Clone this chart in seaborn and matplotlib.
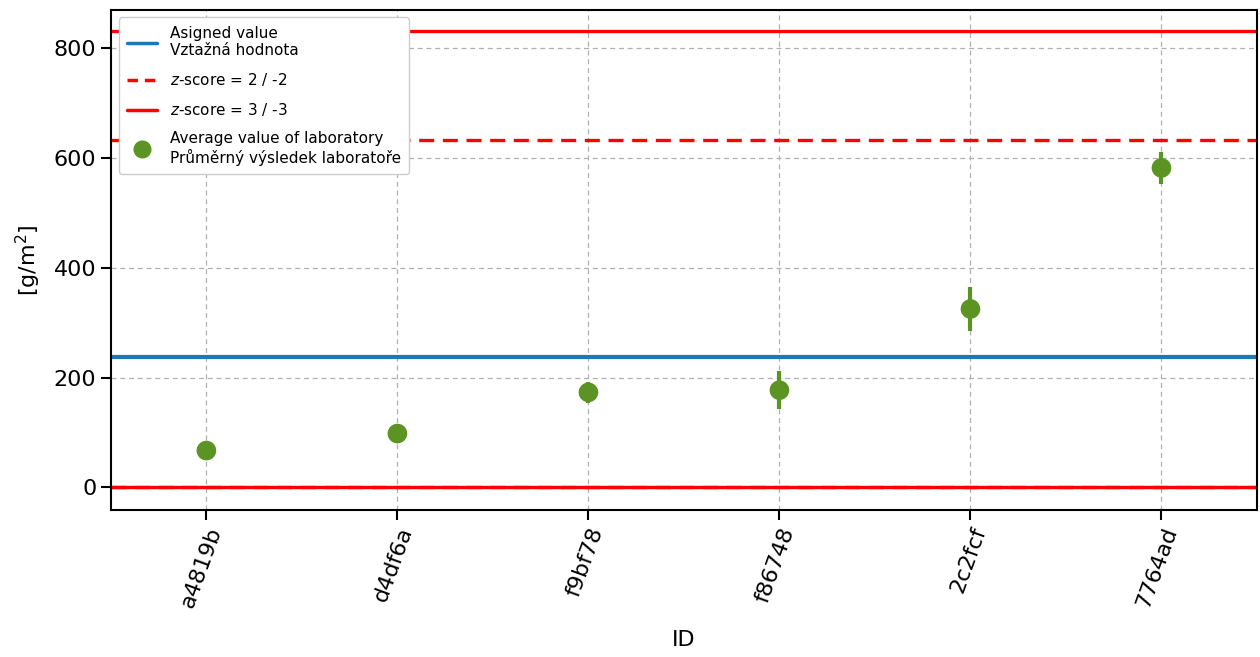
import matplotlib
matplotlib.use("Agg")
import matplotlib.pyplot as plt
import seaborn as sns
import pandas as pd
from matplotlib.lines import Line2D

# ---- data ----
lab_ids = ["a4819b", "d4df6a", "f9bf78", "f86748", "2c2fcf", "7764ad"]
lab_means = [67, 98, 173, 177, 325, 582]
lab_errors = [5, 5, 19, 35, 40, 29]
assigned_value = 237
z2_limits = [633, 0]
z3_limits = [831, 0]

sns.set_style("ticks")
plt.rcParams['font.family'] = ['DejaVu Sans']
plt.rcParams.update({
    "text.color": "black", "axes.labelcolor": "black",
    "xtick.color": "black", "ytick.color": "black",
    "axes.edgecolor": "black",
})

fig, ax = plt.subplots(figsize=(12.6, 6.57), dpi=100)
fig.subplots_adjust(left=0.088, right=0.9976, top=0.985, bottom=0.224)

green = "#5c9424"
df = pd.DataFrame({"ID": lab_ids, "value": lab_means, "err": lab_errors})

ax.axhline(assigned_value, color="#1f77b4", lw=3.0, zorder=2)
for v in z2_limits:
    ax.axhline(v, color="red", lw=2.4, ls=(0, (4.5, 2.6)), zorder=2)
for v in z3_limits:
    ax.axhline(v, color="red", lw=2.4, ls="-", zorder=2)

ax.errorbar(df["ID"], df["value"], yerr=df["err"], fmt="none",
            ecolor=green, elinewidth=3, capsize=0, zorder=3)
sns.scatterplot(data=df, x="ID", y="value", color=green, s=200,
                edgecolor="none", ax=ax, zorder=4, legend=False)

ax.set_xlim(-0.5, 5.5)
ax.set_ylim(-41, 870)
ax.set_yticks([0, 200, 400, 600, 800])
ax.grid(True, ls=(0, (4, 3)), color="#b0b0b0", lw=0.9)
ax.set_axisbelow(True)

for s in ax.spines.values():
    s.set_visible(True)
    s.set_linewidth(1.5)
    s.set_color("black")
ax.tick_params(axis="both", labelsize=16, width=1.5, length=7, colors="black")
plt.setp(ax.get_xticklabels(), rotation=70, ha="right", rotation_mode="anchor")

ax.set_xlabel("ID", fontsize=16, labelpad=14)
ax.set_ylabel(r"[g/m$^2$]", fontsize=16, labelpad=8)

handles = [
    Line2D([], [], color="#1f77b4", lw=2.5),
    Line2D([], [], color="red", lw=2.5, ls=(0, (3, 2))),
    Line2D([], [], color="red", lw=2.5),
    Line2D([], [], color=green, marker="o", ls="none", markersize=12),
]
labels = [
    "Asigned value\nVztažná hodnota",
    r"$z$-score = 2 / -2",
    r"$z$-score = 3 / -3",
    "Average value of laboratory\nPrůměrný výsledek laboratoře",
]
leg = ax.legend(handles, labels, loc="upper left", fontsize=11, framealpha=1.0,
                borderpad=0.55, labelspacing=0.85, handlelength=2.0,
                bbox_to_anchor=(0.0, 1.0))
leg.get_frame().set_edgecolor("#cccccc")

fig.savefig("out.png", dpi=100)
